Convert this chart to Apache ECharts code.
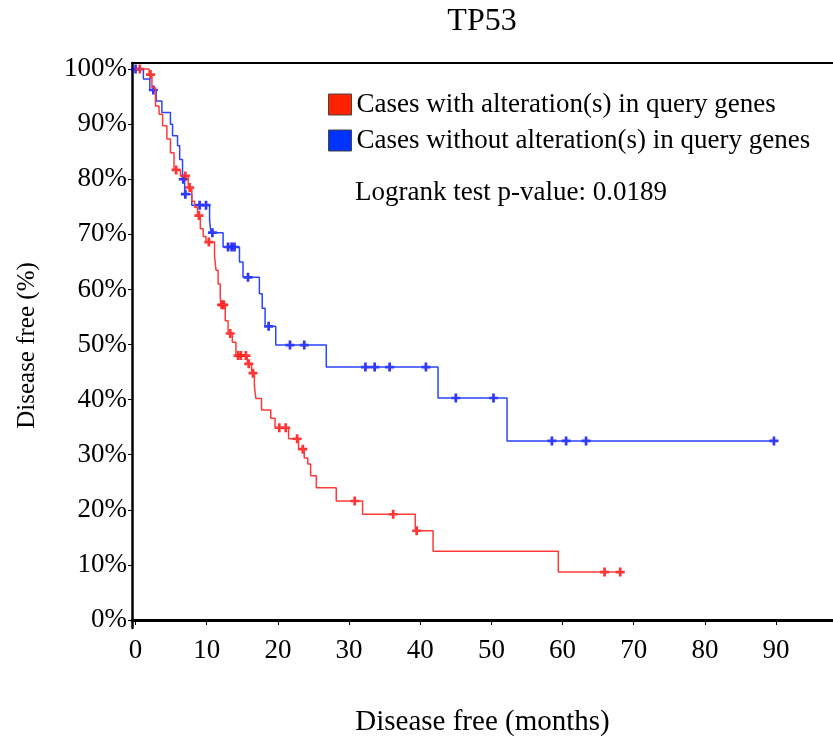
<!DOCTYPE html>
<html>
<head>
<meta charset="utf-8">
<script src="https://cdn.jsdelivr.net/npm/echarts@6/dist/echarts.min.js"></script>
<style>html,body{margin:0;padding:0;background:#fff}#c{width:833px;height:746px}</style>
</head>
<body>
<div id="c"></div>
<script>
// ---- data ----
const titleText = 'TP53';
const seriesNames = ['Cases with alteration(s) in query genes', 'Cases without alteration(s) in query genes'];
const logrankText = 'Logrank test p-value: 0.0189';
const xTicks = [0, 10, 20, 30, 40, 50, 60, 70, 80, 90];
const yTicks = [0, 10, 20, 30, 40, 50, 60, 70, 80, 90, 100];

// altered group: step times (months) and survival (%) after each step
const redTimes = [0, 1.9, 2.3, 2.8, 3.3, 3.8, 4.4, 4.9, 5.4, 6.3, 7.4, 7.9, 8.3, 8.7, 9.1, 9.5, 9.9, 11.1, 11.3, 11.6, 11.9, 12.0, 12.6, 13.0, 13.6, 14.1, 15.7, 16.3, 16.7, 16.9, 17.7, 19.0, 19.6, 21.5, 22.9, 23.7, 24.2, 24.6, 25.4, 28.2, 31.9, 39.3, 41.8, 59.4, 68.1];
const redSurv  = [100, 99.0, 96.6, 93.3, 91.8, 89.7, 87.3, 84.8, 81.7, 80.6, 78.5, 76.0, 74.9, 73.4, 71.0, 69.6, 68.6, 66.0, 63.5, 61.0, 58.6, 57.2, 54.3, 52.0, 50.4, 48.0, 46.5, 44.8, 42.5, 40.2, 38.1, 36.6, 34.9, 32.9, 31.0, 29.4, 28.3, 26.2, 24.0, 21.6, 19.2, 16.2, 12.5, 8.7, 8.7];
const redCensorTimes = [0.6, 2.1, 5.7, 7.0, 7.6, 8.9, 10.3, 12.1, 12.4, 13.3, 14.4, 14.8, 15.5, 15.9, 16.5, 20.2, 21.1, 22.7, 23.5, 30.8, 36.2, 39.5, 65.9, 68.1];
const redCensorSurv  = [100, 99.0, 81.7, 80.6, 78.5, 73.4, 68.6, 57.2, 57.2, 52.0, 48.0, 48.0, 48.0, 46.5, 44.8, 34.9, 34.9, 32.9, 31.0, 21.6, 19.2, 16.2, 8.7, 8.7];

// unaltered group
const blueTimes = [0, 1.1, 2.0, 2.9, 3.7, 4.9, 5.2, 5.9, 6.2, 6.6, 6.9, 7.9, 10.4, 10.6, 12.3, 14.6, 15.1, 17.4, 17.8, 18.2, 19.7, 26.8, 42.5, 52.2, 89.7];
const blueSurv  = [100, 98.2, 96.2, 94.2, 92.1, 90.0, 87.9, 86.1, 83.6, 80.0, 77.3, 75.3, 72.5, 70.3, 67.7, 65.0, 62.2, 59.2, 56.6, 53.3, 49.9, 45.9, 40.3, 32.5, 32.5];
const blueCensorTimes = [0, 2.5, 6.7, 7.0, 9.0, 9.9, 10.8, 13.0, 13.5, 13.9, 15.8, 18.7, 21.7, 23.7, 32.3, 33.6, 35.7, 40.8, 45.0, 50.3, 58.5, 60.5, 63.3, 89.7];
const blueCensorSurv  = [100, 96.2, 80.0, 77.3, 75.3, 75.3, 70.3, 67.7, 67.7, 67.7, 62.2, 53.3, 49.9, 49.9, 45.9, 45.9, 45.9, 45.9, 40.3, 40.3, 32.5, 32.5, 32.5, 32.5];

// ---- chart ----
const zip = (a, b) => a.map((v, i) => [v, b[i]]);
const FONT = '"Liberation Serif", "DejaVu Serif", serif';
const plus = 'path://M3.5,0h3v3.5h3.5v3h-3.5v3.5h-3v-3.5h-3.5v-3h3.5z';
const RED = '#ff3a3a', BLUE = '#2a44ff';

const chart = echarts.init(document.getElementById('c'), null, {renderer: 'canvas'});
chart.setOption({
  backgroundColor: '#fff',
  animation: false,
  grid: {left: 132, right: 0, top: 63, bottom: 118, containLabel: false},
  legend: {
    orient: 'vertical', left: 323, top: 86, itemWidth: 23, itemHeight: 21, itemGap: 9,
    icon: 'rect', selectedMode: false,
    textStyle: {fontFamily: FONT, fontSize: 27, color: '#000', lineHeight: 21},
    data: [
      {name: seriesNames[0], itemStyle: {color: '#ff2200', borderColor: '#444', borderWidth: 1}},
      {name: seriesNames[1], itemStyle: {color: '#0033ff', borderColor: '#444', borderWidth: 1}}
    ]
  },
  graphic: [
    {type: 'text', x: 482, y: 22, style: {text: titleText, font: '32px ' + FONT, fill: '#000', textAlign: 'center', textVerticalAlign: 'middle'}},
    {type: 'text', x: 355, y: 193, style: {text: logrankText, font: '27px ' + FONT, fill: '#000', textAlign: 'left', textVerticalAlign: 'middle'}}
  ],
  xAxis: [{
    type: 'value', min: -0.5, max: 98,
    name: 'Disease free (months)', nameLocation: 'middle', nameGap: 80,
    nameTextStyle: {fontFamily: FONT, fontSize: 29, color: '#000'},
    axisLine: {show: true, lineStyle: {color: '#000', width: 3}},
    axisTick: {show: true, length: 5, customValues: xTicks, lineStyle: {color: '#000', width: 1}},
    axisLabel: {customValues: xTicks, fontFamily: FONT, fontSize: 27, color: '#000', margin: 9},
    splitLine: {show: false}
  }, {
    type: 'value', position: 'top', min: -0.5, max: 98,
    axisLine: {show: true, onZero: false, lineStyle: {color: '#000', width: 2}},
    axisTick: {show: false}, axisLabel: {show: false}, splitLine: {show: false}
  }],
  yAxis: {
    type: 'value', min: -1.45, max: 101.1,
    name: 'Disease free (%)', nameLocation: 'middle', nameGap: 92,
    nameTextStyle: {fontFamily: FONT, fontSize: 25, color: '#000'},
    axisLine: {show: true, onZero: false, lineStyle: {color: '#000', width: 2.5}},
    axisTick: {show: true, length: 4, customValues: yTicks, lineStyle: {color: '#000', width: 1}},
    axisLabel: {customValues: yTicks, formatter: '{value}%', fontFamily: FONT, fontSize: 27, color: '#000', margin: 5},
    splitLine: {show: false}
  },
  series: [
    {name: seriesNames[1], type: 'line', step: 'end', data: zip(blueTimes, blueSurv), showSymbol: false,
      lineStyle: {color: BLUE, width: 1.5}, itemStyle: {color: '#0033ff'}},
    {name: seriesNames[0], type: 'line', step: 'end', data: zip(redTimes, redSurv), showSymbol: false,
      lineStyle: {color: RED, width: 1.5}, itemStyle: {color: '#ff2200'}},
    {name: 'blueCensor', type: 'scatter', data: zip(blueCensorTimes, blueCensorSurv), symbol: plus, symbolSize: 9,
      itemStyle: {color: '#0000ee'}},
    {name: 'redCensor', type: 'scatter', data: zip(redCensorTimes, redCensorSurv), symbol: plus, symbolSize: 9,
      itemStyle: {color: '#ff0000'}}
  ]
});
</script>
</body>
</html>
